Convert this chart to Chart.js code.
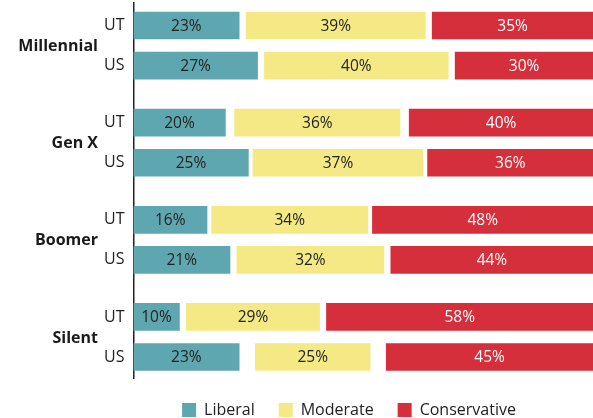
<!DOCTYPE html>
<html>
<head>
<meta charset="utf-8">
<script src="https://cdn.jsdelivr.net/npm/chart.js@4"></script>
<style>
  html, body { margin: 0; padding: 0; background: #ffffff; }
  #wrap { width: 593px; height: 418px; position: relative; }
</style>
</head>
<body>
<div id="wrap"><canvas id="c"></canvas></div>
<script>
// ---- data ----
const groups = ['Millennial', 'Gen X', 'Boomer', 'Silent'];
const regions = ['UT', 'US'];
// rows in order: Millennial UT, Millennial US, Gen X UT, Gen X US, Boomer UT, Boomer US, Silent UT, Silent US
const liberal      = [23, 27, 20, 25, 16, 21, 10, 23];
const moderate     = [39, 40, 36, 37, 34, 32, 29, 25];
const conservative = [35, 30, 40, 36, 48, 44, 58, 45];
const seriesNames = ['Liberal', 'Moderate', 'Conservative'];

// ---- layout ----
const GROUP_STEP = 2.425;
const colors = ['#5fa7b0', '#f5e985', '#d42f3b'];
const labelColors = ['#222222', '#222222', '#ffffff'];
const FONT = '"Open Sans", "Noto Sans", sans-serif';

function rowPos(i) {
  const g = Math.floor(i / regions.length);
  const r = i % regions.length;
  return g * GROUP_STEP + r;
}
const positions = liberal.map((_, i) => rowPos(i));

// floating segments: the unanswered share is shown as two equal gaps
const libData = [], modData = [], conData = [];
liberal.forEach((l, i) => {
  const m = moderate[i], c = conservative[i];
  const gap = (100 - l - m - c) / 2;
  libData.push({ x: [0, l], y: positions[i] });
  modData.push({ x: [l + gap, l + gap + m], y: positions[i] });
  conData.push({ x: [100 - c, 100], y: positions[i] });
});
const valueSets = [liberal, moderate, conservative];

const labelPlugin = {
  id: 'barLabels',
  afterDatasetsDraw(chart) {
    const ctx = chart.ctx;
    ctx.save();
    ctx.font = '15.5px ' + FONT;
    ctx.textAlign = 'center';
    ctx.textBaseline = 'middle';
    chart.data.datasets.forEach((ds, di) => {
      const meta = chart.getDatasetMeta(di);
      meta.data.forEach((el, i) => {
        const p = el.getCenterPoint();
        ctx.fillStyle = labelColors[di];
        ctx.fillText(valueSets[di][i] + '%', p.x, p.y + 1);
      });
    });
    ctx.restore();
  }
};

const groupPlugin = {
  id: 'groupLabels',
  afterDraw(chart) {
    const ctx = chart.ctx;
    const y = chart.scales.y;
    ctx.save();
    ctx.font = 'bold 16px ' + FONT;
    ctx.fillStyle = '#1a1a1a';
    ctx.textAlign = 'right';
    ctx.textBaseline = 'middle';
    groups.forEach((g, gi) => {
      const a = y.getPixelForValue(rowPos(gi * regions.length));
      const b = y.getPixelForValue(rowPos(gi * regions.length + regions.length - 1));
      ctx.fillText(g, 98, (a + b) / 2 + 1);
    });
    ctx.restore();
  }
};

new Chart(document.getElementById('c'), {
  type: 'bar',
  data: {
    datasets: [
      { label: seriesNames[0], data: libData, backgroundColor: colors[0] },
      { label: seriesNames[1], data: modData, backgroundColor: colors[1] },
      { label: seriesNames[2], data: conData, backgroundColor: colors[2] }
    ]
  },
  options: {
    indexAxis: 'y',
    responsive: true,
    maintainAspectRatio: false,
    animation: false,
    datasets: { bar: { grouped: false, barThickness: 27, borderWidth: 0 } },
    layout: { padding: { top: 3, bottom: -10, left: 105, right: 0 } },
    scales: {
      x: { type: 'linear', min: 0, max: 100, display: false },
      y: {
        type: 'linear',
        offset: false,
        reverse: true,
        min: -0.5617,
        max: 8.799,
        afterFit(scale) {
          scale.width = 28.5;
          scale.paddingTop = 0;
          scale.paddingBottom = 0;
        },
        afterBuildTicks(scale) {
          scale.ticks = positions.map(v => ({ value: v }));
        },
        ticks: {
          autoSkip: false,
          padding: 9,
          color: '#222222',
          font: { family: FONT, size: 16 },
          callback(value) {
            const i = positions.findIndex(p => Math.abs(p - value) < 1e-6);
            return i >= 0 ? regions[i % regions.length] : '';
          }
        },
        grid: { display: false, drawTicks: false, offset: false },
        border: { display: true, color: '#222222', width: 1.5 }
      }
    },
    plugins: {
      legend: {
        position: 'bottom',
        labels: {
          boxWidth: 14,
          boxHeight: 14,
          padding: 24,
          color: '#222222',
          font: { family: FONT, size: 16 }
        }
      },
      tooltip: { enabled: false }
    }
  },
  plugins: [labelPlugin, groupPlugin]
});
</script>
</body>
</html>
